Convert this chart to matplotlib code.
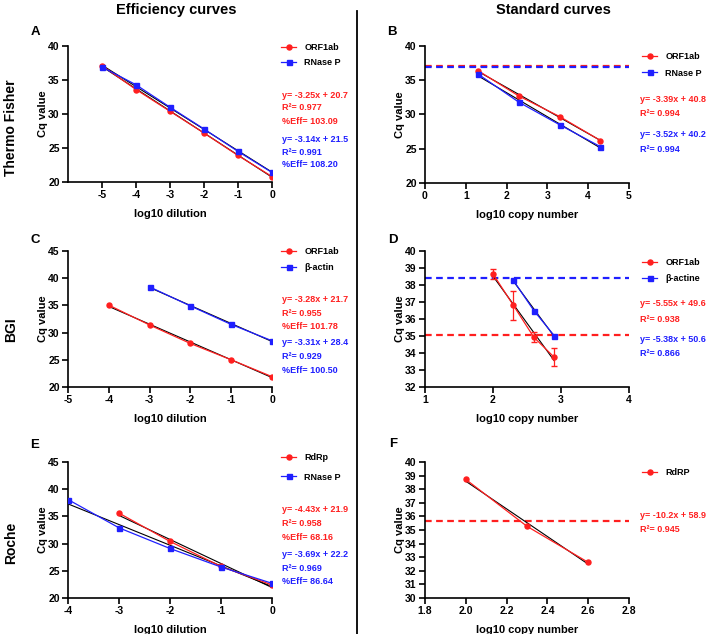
import numpy as np
import matplotlib
matplotlib.use("Agg")
import matplotlib.pyplot as plt
from matplotlib.lines import Line2D

plt.rcParams['font.family'] = ['Liberation Sans', 'DejaVu Sans']
plt.rcParams['font.weight'] = 'bold'
plt.rcParams['axes.unicode_minus'] = False

RED = '#ff1f1f'
BLUE = '#1f1fff'

# A - Thermo Fisher efficiency
a_x = [-5, -4, -3, -2, -1, 0]
a_orf = [37.1, 33.6, 30.4, 27.2, 23.9, 20.8]
a_rnp = [36.9, 34.3, 31.0, 27.8, 24.5, 21.4]
# B - Thermo Fisher standard
b_x = [1.3, 2.3, 3.3, 4.3]
b_orf = [36.4, 32.7, 29.7, 26.2]
b_rnp = [35.9, 31.8, 28.5, 25.3]
b_lod = [37.1, 36.9]
# C - BGI efficiency
c_x_orf = [-4, -3, -2, -1, 0]
c_orf = [35.05, 31.4, 28.0, 25.0, 21.9]
c_x_act = [-3, -2, -1, 0]
c_act = [38.4, 34.9, 31.5, 28.5]
# D - BGI standard
d_x_orf = [2.0, 2.3, 2.6, 2.9]
d_orf = [38.65, 36.8, 34.93, 33.75]
d_orf_err = [0.3, 0.86, 0.3, 0.52]
d_x_act = [2.3, 2.6, 2.9]
d_act = [38.27, 36.5, 35.02]
d_lod = [35.07, 38.42]
# E - Roche efficiency
e_x_rdrp = [-3, -2, -1, 0]
e_rdrp = [35.6, 30.4, 25.8, 22.4]
e_x_rnp = [-4, -3, -2, -1, 0]
e_rnp = [38.1, 32.9, 29.1, 25.7, 22.7]
# F - Roche standard
f_x = [2.0, 2.3, 2.6]
f_rdrp = [38.72, 35.27, 32.62]
f_lod = 35.64

W, H = 708, 634
fig = plt.figure(figsize=(W / 100, H / 100), dpi=100)


def add_ax(l, t, r, b):
    return fig.add_axes([l / W, 1 - b / H, (r - l) / W, (b - t) / H])


def ftext(x, y, s, **kw):
    fig.text(x / W, 1 - y / H, s, **kw)


def style(ax, xlim, ylim, xticks, yticks, xlabel):
    ax.set_xlim(*xlim)
    ax.set_ylim(*ylim)
    ax.set_xticks(xticks)
    ax.set_yticks(yticks)
    for s in ['top', 'right']:
        ax.spines[s].set_visible(False)
    for s in ['left', 'bottom']:
        ax.spines[s].set_linewidth(1.2)
    ax.tick_params(width=1.2, length=4, labelsize=7.5, pad=2)
    for lab in ax.get_xticklabels() + ax.get_yticklabels():
        lab.set_fontweight('bold')
    ax.set_xlabel(xlabel, fontsize=8, fontweight='bold', labelpad=6)
    ax.set_ylabel('Cq value', fontsize=8, fontweight='bold', labelpad=0)


def series(ax, x, y, color, marker, label, yerr=None):
    if yerr is not None:
        eb = ax.errorbar(x, y, yerr=yerr, color=color, lw=0.9, marker=marker, ms=3.6,
                         capsize=2.5, elinewidth=0.9, zorder=3)
        h = eb.lines[0]
        h.set_label(label)
    else:
        h, = ax.plot(x, y, color=color, lw=0.9, marker=marker, ms=3.6, label=label, zorder=3)
    k, b = np.polyfit(x, y, 1)
    xs = np.array([min(x), max(x)])
    ax.plot(xs, k * xs + b, color='black', lw=0.8, zorder=2)
    return h


def legend(ax, handles, x, y, step):
    leg = ax.legend(handles=handles, loc='upper left', bbox_to_anchor=(x / W, 1 - y / H),
                    bbox_transform=fig.transFigure, frameon=False, fontsize=6.5,
                    borderpad=0, borderaxespad=0, handlelength=1.7,
                    handletextpad=0.9, labelspacing=(step - 9) / 9)
    for t in leg.get_texts():
        t.set_fontweight('bold')


def notes(x, ys, lines, color):
    for y, s in zip(ys, lines):
        ftext(x, y, s, color=color, fontsize=6.5, fontweight='bold', va='center', ha='left')


# A
ax = add_ax(68, 46, 272, 182)
h1 = series(ax, a_x, a_orf, RED, 'o', 'ORF1ab')
h2 = series(ax, a_x, a_rnp, BLUE, 's', 'RNase P')
style(ax, (-6, 0), (20, 40), range(-5, 1), range(20, 41, 5), 'log10 dilution')
legend(ax, [h1, h2], 281, 43, 15.4)
notes(282, [95.7, 107, 122], ['y= -3.25x + 20.7', 'R²= 0.977', '%Eff= 103.09'], RED)
notes(282, [139, 152.7, 165], ['y= -3.14x + 21.5', 'R²= 0.991', '%Eff= 108.20'], BLUE)

# B
ax = add_ax(425, 46, 629, 183)
h1 = series(ax, b_x, b_orf, RED, 'o', 'ORF1ab')
h2 = series(ax, b_x, b_rnp, BLUE, 's', 'RNase P')
ax.axhline(b_lod[0], color=RED, lw=1.6, ls=(0, (3, 2)), zorder=1)
ax.axhline(b_lod[1], color=BLUE, lw=1.6, ls=(0, (3, 2)), zorder=1)
style(ax, (0, 5), (20, 40), range(0, 6), range(20, 41, 5), 'log10 copy number')
legend(ax, [h1, h2], 642, 52, 16.6)
notes(640, [100, 114], ['y= -3.39x + 40.8', 'R²= 0.994'], RED)
notes(640, [134.7, 149], ['y= -3.52x + 40.2', 'R²= 0.994'], BLUE)

# C
ax = add_ax(68, 251, 272, 387)
h1 = series(ax, c_x_orf, c_orf, RED, 'o', 'ORF1ab')
h2 = series(ax, c_x_act, c_act, BLUE, 's', 'β-actin')
style(ax, (-5, 0), (20, 45), range(-5, 1), range(20, 46, 5), 'log10 dilution')
legend(ax, [h1, h2], 281, 247, 16)
notes(282, [300, 314, 326.7], ['y= -3.28x + 21.7', 'R²= 0.955', '%Eff= 101.78'], RED)
notes(282, [342.7, 356.7, 370.7], ['y= -3.31x + 28.4', 'R²= 0.929', '%Eff= 100.50'], BLUE)

# D
ax = add_ax(425, 251, 629, 387)
h1 = series(ax, d_x_orf, d_orf, RED, 'o', 'ORF1ab', yerr=d_orf_err)
h2 = series(ax, d_x_act, d_act, BLUE, 's', 'β-actine')
ax.axhline(d_lod[0], color=RED, lw=1.6, ls=(0, (3, 2)), zorder=1)
ax.axhline(d_lod[1], color=BLUE, lw=1.6, ls=(0, (3, 2)), zorder=1)
style(ax, (1, 4), (32, 40), range(1, 5), range(32, 41), 'log10 copy number')
legend(ax, [h1, h2], 642, 258, 16)
notes(640, [304, 319], ['y= -5.55x + 49.6', 'R²= 0.938'], RED)
notes(640, [339, 354], ['y= -5.38x + 50.6', 'R²= 0.866'], BLUE)

# E
ax = add_ax(68, 462, 272, 598)
h1 = series(ax, e_x_rdrp, e_rdrp, RED, 'o', 'RdRp')
h2 = series(ax, e_x_rnp, e_rnp, BLUE, 's', 'RNase P')
style(ax, (-4, 0), (20, 45), range(-4, 1), range(20, 46, 5), 'log10 dilution')
legend(ax, [h1, h2], 281, 453, 19.6)
notes(282, [510, 524, 537.3], ['y= -4.43x + 21.9', 'R²= 0.958', '%Eff= 68.16'], RED)
notes(282, [554.3, 568.7, 581.7], ['y= -3.69x + 22.2', 'R²= 0.969', '%Eff= 86.64'], BLUE)

# F
ax = add_ax(425, 462, 629, 598)
h1 = series(ax, f_x, f_rdrp, RED, 'o', 'RdRP')
ax.axhline(f_lod, color=RED, lw=1.6, ls=(0, (3, 2)), zorder=1)
style(ax, (1.8, 2.8), (30, 40), np.arange(1.8, 2.81, 0.2), range(30, 41), 'log10 copy number')
ax.set_xticklabels(['1.8', '2.0', '2.2', '2.4', '2.6', '2.8'], fontweight='bold')
legend(ax, [h1], 642, 468, 16)
notes(640, [515.7, 530], ['y= -10.2x + 58.9', 'R²= 0.945'], RED)

# column titles, row labels, panel letters
ftext(176, 10, 'Efficiency curves', fontsize=10.5, fontweight='bold', ha='center', va='center')
ftext(553, 10, 'Standard curves', fontsize=10.5, fontweight='bold', ha='center', va='center')
for y, s in [(128, 'Thermo Fisher'), (330, 'BGI'), (543, 'Roche')]:
    ftext(11, y, s, fontsize=10, fontweight='bold', rotation=90, ha='center', va='center')
for x, y, s in [(35, 32, 'A'), (392, 32, 'B'), (35, 240, 'C'), (393, 240, 'D'),
                (35, 445, 'E'), (393, 444, 'F')]:
    ftext(x, y, s, fontsize=9.5, fontweight='bold', ha='center', va='center')

fig.add_artist(Line2D([357 / W, 357 / W], [0, 1 - 11 / H], color='black', lw=1.3,
                      transform=fig.transFigure))

fig.savefig('out.png', dpi=100)
